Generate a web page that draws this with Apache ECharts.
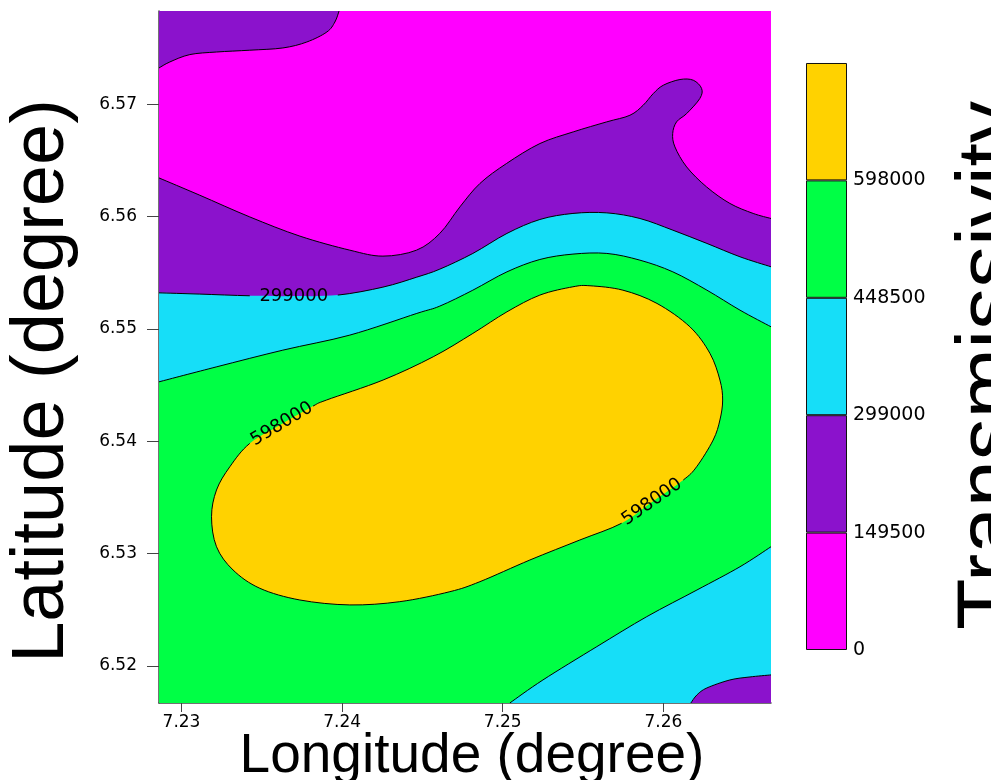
<!DOCTYPE html>
<html><head><meta charset="utf-8">
<script src="https://cdn.jsdelivr.net/npm/echarts@6/dist/echarts.min.js"></script>
<style>html,body{margin:0;padding:0;background:#fff}#c{width:991px;height:780px}</style>
</head><body><div id="c"></div>
<script>
// ---- axis ranges and ticks ----
const lonRange = [7.2286, 7.2667];
const latRange = [6.5167, 6.5783];
const lonTicks = [7.23, 7.24, 7.25, 7.26];
const latTicks = [6.52, 6.53, 6.54, 6.55, 6.56, 6.57];

// ---- contour levels and colours ----
const levels = [0, 149500, 299000, 448500, 598000, 747500];
const levelColors = ['#FF00FF', '#8B12CC', '#16DEF8', '#00FF45', '#FFD200'];

// ---- contour lines: [longitude, latitude] ----
const c149500Upper = [[7.2286,6.57323],[7.22927,6.57376],[7.23052,6.57442],[7.23218,6.57465],[7.23425,6.57481],[7.23631,6.57501],[7.23780,6.57554],[7.23905,6.57643],[7.23955,6.57732],[7.23981,6.5783]];
const c149500Lower = [[7.2286,6.56344],[7.23114,6.56190],[7.23425,6.55997],[7.23737,6.55826],[7.24048,6.55701],[7.24254,6.55648],[7.24463,6.55701],[7.24608,6.55850],[7.24733,6.56086],[7.24858,6.56295],[7.25024,6.56473],[7.25231,6.56650],[7.25439,6.56754],[7.25647,6.56843],[7.25792,6.56902],[7.25874,6.56991],[7.25937,6.57095],[7.25999,6.57169],[7.26103,6.57220],[7.26186,6.57214],[7.26238,6.57140],[7.26227,6.57051],[7.26145,6.56917],[7.26082,6.56843],[7.26058,6.56739],[7.26072,6.56620],[7.26145,6.56442],[7.26269,6.56264],[7.26414,6.56117],[7.26559,6.56028],[7.2667,6.55983]];
const c299000Upper = [[7.2286,6.55321],[7.23114,6.55310],[7.23425,6.55295],[7.23699,6.55292],[7.23973,6.55301],[7.24254,6.55372],[7.24465,6.55461],[7.24608,6.55532],[7.24814,6.55672],[7.25026,6.55850],[7.25231,6.55974],[7.25437,6.56028],[7.25648,6.56033],[7.25854,6.55983],[7.26059,6.55879],[7.26271,6.55761],[7.26477,6.55642],[7.2667,6.55553]];
const c448500Upper = [[7.2286,6.54529],[7.23220,6.54663],[7.23631,6.54811],[7.24048,6.54945],[7.24465,6.55138],[7.24608,6.55203],[7.24814,6.55345],[7.25026,6.55508],[7.25231,6.55618],[7.25437,6.55666],[7.25648,6.55672],[7.25854,6.55612],[7.26059,6.55508],[7.26271,6.55345],[7.26477,6.55167],[7.2667,6.55019]];
const c598000 = [[7.23903,6.54367],[7.24255,6.54545],[7.24567,6.54752],[7.24814,6.54960],[7.25026,6.55152],[7.25231,6.55301],[7.25437,6.55375],[7.25543,6.55384],[7.25748,6.55345],[7.25960,6.55227],[7.26165,6.55019],[7.26290,6.54782],[7.26352,6.54545],[7.26369,6.54367],[7.26352,6.54189],[7.26310,6.54011],[7.26207,6.53773],[7.26124,6.53655],[7.25929,6.53459],[7.25740,6.53270],[7.25480,6.53121],[7.25169,6.52943],[7.24858,6.52750],[7.24671,6.52661],[7.24359,6.52572],[7.24048,6.52543],[7.23737,6.52587],[7.23488,6.52691],[7.23321,6.52854],[7.23218,6.53061],[7.23187,6.53328],[7.23218,6.53566],[7.23301,6.53773],[7.23425,6.53981],[7.23625,6.54153],[7.23819,6.54313]];
const c448500Lower = [[7.25044,6.5167],[7.25250,6.51875],[7.25586,6.52172],[7.25897,6.52439],[7.26209,6.52676],[7.26477,6.52883],[7.2667,6.53061]];
const c299000Lower = [[7.26171,6.5167],[7.26209,6.51742],[7.26271,6.51804],[7.26414,6.51875],[7.26539,6.51902],[7.2667,6.51920]];

// contour labels: [lon, lat, text, angle in degrees]
const contourLabels = [[7.23699,6.55292,'299000',0],[7.23625,6.54153,'598000',31],[7.25929,6.53459,'598000',35]];

// ---------------------------------------------------------------
const [x0, x1] = lonRange, [y0, y1] = latRange;
const regions = [
  { fill: 3, pieces: [{ pt: [x0, y0] }, { pt: [x1, y0] }, { pt: [x1, y1] }, { pt: [x0, y1] }], lines: [] },
  { fill: 2, pieces: [{ curve: c448500Upper }, { pt: [x1, y1] }, { pt: [x0, y1] }], lines: [{ curve: c448500Upper }] },
  { fill: 1, pieces: [{ curve: c299000Upper }, { pt: [x1, y1] }, { pt: [x0, y1] }], lines: [{ curve: c299000Upper }] },
  { fill: 0, pieces: [{ curve: c149500Upper }, { pt: [x1, y1] }, { curve: c149500Lower.slice().reverse() }], lines: [{ curve: c149500Upper }, { curve: c149500Lower }] },
  { fill: 4, pieces: [{ curve: c598000, closed: true }], lines: [{ curve: c598000, closed: true }] },
  { fill: 2, pieces: [{ curve: c448500Lower }, { pt: [x1, y0] }], lines: [{ curve: c448500Lower }] },
  { fill: 1, pieces: [{ curve: c299000Lower }, { pt: [x1, y0] }], lines: [{ curve: c299000Lower }] }
];
const labelKeys = new Set(contourLabels.map(l => l[0] + ',' + l[1]));

// Catmull-Rom -> cubic Bezier segments through the given pixel points
function crSegs(P, closed) {
  const n = P.length, segs = [];
  const get = i => closed ? P[(i + n) % n] : P[Math.max(0, Math.min(n - 1, i))];
  const m = closed ? n : n - 1;
  for (let i = 0; i < m; i++) {
    const p0 = get(i - 1), p1 = get(i), p2 = get(i + 1), p3 = get(i + 2);
    segs.push([p1,
      [p1[0] + (p2[0] - p0[0]) / 6, p1[1] + (p2[1] - p0[1]) / 6],
      [p2[0] - (p3[0] - p1[0]) / 6, p2[1] - (p3[1] - p1[1]) / 6],
      p2]);
  }
  return segs;
}
const cmd = s => 'C' + s[1][0] + ' ' + s[1][1] + ' ' + s[2][0] + ' ' + s[2][1] + ' ' + s[3][0] + ' ' + s[3][1];

function fillPath(pieces, api) {
  let d = '';
  pieces.forEach(pc => {
    if (pc.pt) { const q = api.coord(pc.pt); d += (d ? 'L' : 'M') + q[0] + ' ' + q[1]; return; }
    const P = pc.curve.map(p => api.coord(p));
    d += (d ? 'L' : 'M') + P[0][0] + ' ' + P[0][1];
    crSegs(P, pc.closed).forEach(s => { d += cmd(s); });
  });
  return d + 'Z';
}
function strokePath(line, api) {
  const P = line.curve.map(p => api.coord(p));
  const lab = line.curve.map(p => labelKeys.has(p[0] + ',' + p[1]));
  const n = P.length;
  let d = '', penAt = -1;
  crSegs(P, line.closed).forEach((s, i) => {
    const j = (i + 1) % n;
    if (lab[i] || lab[j]) { penAt = -1; return; }
    if (penAt !== i) d += 'M' + s[0][0] + ' ' + s[0][1];
    d += cmd(s);
    penAt = j;
  });
  return d;
}

function renderRegion(params, api) {
  const r = regions[api.value(2)];
  const children = [{
    type: 'path', shape: { pathData: fillPath(r.pieces, api) },
    style: { fill: levelColors[r.fill], stroke: null, lineWidth: 0 }
  }];
  r.lines.forEach(line => {
    const d = strokePath(line, api);
    if (d) children.push({ type: 'path', shape: { pathData: d }, style: { fill: null, stroke: '#000', lineWidth: 1 } });
  });
  return { type: 'group', children };
}

function renderLabel(params, api) {
  const l = contourLabels[api.value(2)];
  const pt = api.coord([l[0], l[1]]);
  return {
    type: 'text', x: pt[0], y: pt[1], rotation: l[3] * Math.PI / 180,
    style: { text: l[2], fill: '#000', font: '18px "DejaVu Sans"', align: 'center', verticalAlign: 'middle', textAlign: 'center', textVerticalAlign: 'middle' }
  };
}

const chart = echarts.init(document.getElementById('c'), null, { renderer: 'canvas' });
const axisCol = '#444';
chart.setOption({
  animation: false,
  backgroundColor: '#fff',
  grid: [
    { left: 159, top: 11, width: 612, height: 692, outerBoundsMode: 'none', containLabel: false },
    { left: 806, top: 63, width: 41, height: 587, outerBoundsMode: 'none', containLabel: false }
  ],
  xAxis: [
    {
      type: 'value', gridIndex: 0, min: x0, max: x1,
      axisLine: { show: true, onZero: false, lineStyle: { color: axisCol, width: 1.5 } },
      axisTick: { show: true, customValues: lonTicks, length: 9, lineStyle: { color: axisCol, width: 1 } },
      axisLabel: { customValues: lonTicks, formatter: v => Number(v).toFixed(2), fontSize: 17, fontFamily: 'DejaVu Sans', color: '#000', margin: 11 },
      splitLine: { show: false },
      name: 'Longitude (degree)', nameLocation: 'middle', nameGap: 26, nameMoveOverlap: false,
      nameTextStyle: { fontSize: 55, fontFamily: 'Liberation Sans', color: '#000', padding: [0, 0, 0, 14] }
    },
    { type: 'category', gridIndex: 1, data: ['T'], show: false }
  ],
  yAxis: [
    {
      type: 'value', gridIndex: 0, min: y0, max: y1,
      axisLine: { show: true, onZero: false, lineStyle: { color: axisCol, width: 1.5 } },
      axisTick: { show: true, customValues: latTicks, length: 12, lineStyle: { color: axisCol, width: 1 } },
      axisLabel: { customValues: latTicks, formatter: v => Number(v).toFixed(2), fontSize: 17, fontFamily: 'DejaVu Sans', color: '#000', margin: 22 },
      splitLine: { show: false },
      name: 'Latitude (degree)', nameLocation: 'middle', nameGap: 79, nameMoveOverlap: false,
      nameTextStyle: { fontSize: 74, fontFamily: 'Liberation Sans', color: '#000', padding: [0, 48, 0, 0] }
    },
    {
      type: 'value', gridIndex: 1, position: 'right', min: levels[0], max: levels[levels.length - 1], interval: levels[1] - levels[0],
      axisLine: { show: false }, axisTick: { show: false }, splitLine: { show: false },
      axisLabel: { showMaxLabel: false, formatter: v => String(v), fontSize: 19, fontFamily: 'DejaVu Sans', color: '#000', margin: 6 },
      name: 'Transmissivity', nameLocation: 'middle', nameGap: 103, nameMoveOverlap: false,
      nameTextStyle: { fontSize: 84, fontFamily: 'Liberation Sans', color: '#000', padding: [0, 18, 0, 0] }
    }
  ],
  series: [
    {
      type: 'custom', xAxisIndex: 0, yAxisIndex: 0, clip: true, silent: true,
      renderItem: renderRegion, encode: { x: 0, y: 1 },
      data: regions.map((r, i) => [x0, y0, i])
    },
    {
      type: 'custom', xAxisIndex: 0, yAxisIndex: 0, silent: true,
      renderItem: renderLabel, encode: { x: 0, y: 1 },
      data: contourLabels.map((l, i) => [l[0], l[1], i])
    }
  ].concat(levelColors.map((c, i) => ({
    type: 'bar', xAxisIndex: 1, yAxisIndex: 1, stack: 'cb', silent: true,
    barWidth: '100%', data: [levels[i + 1] - levels[i]],
    itemStyle: { color: c, borderColor: '#111', borderWidth: 1 }
  })))
});
</script></body></html>
